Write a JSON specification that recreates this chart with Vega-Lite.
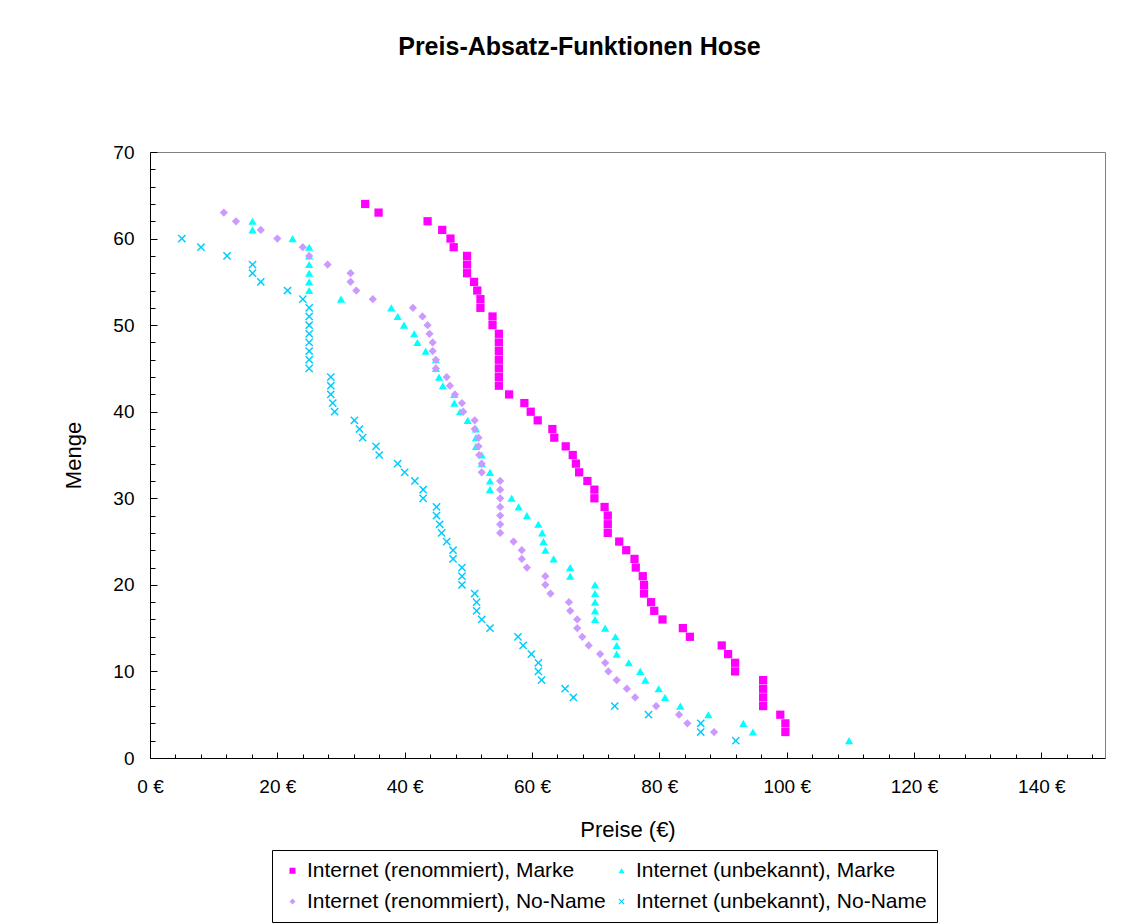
{
  "$schema": "https://vega.github.io/schema/vega-lite/v6.json",
  "width": 955,
  "height": 606,
  "autosize": "none",
  "padding": {"left": 150, "top": 152, "right": 41, "bottom": 166},
  "background": "white",
  "title": {"text": "Preis-Absatz-Funktionen Hose", "font": "Liberation Sans", "fontSize": 25, "fontWeight": "bold", "color": "black", "anchor": "middle", "frame": "group", "dx": -48, "offset": 83},
  "config": {
    "font": "Liberation Sans",
    "view": {"stroke": "#808080", "strokeWidth": 1},
    "axis": {"grid": false, "labelFlush": false, "domainColor": "black", "tickColor": "black", "labelColor": "black", "titleColor": "black", "labelFontSize": 19, "titleFontSize": 22, "titleFontWeight": "normal", "labelFont": "Liberation Sans", "titleFont": "Liberation Sans", "domainWidth": 1, "tickWidth": 1}
  },
  "datasets": {
    "pts": [
      {"serie": "Internet (renommiert), Marke", "preis": 33.8, "menge": 64},
      {"serie": "Internet (renommiert), Marke", "preis": 35.9, "menge": 63},
      {"serie": "Internet (renommiert), Marke", "preis": 43.6, "menge": 62},
      {"serie": "Internet (renommiert), Marke", "preis": 45.9, "menge": 61},
      {"serie": "Internet (renommiert), Marke", "preis": 47.2, "menge": 60},
      {"serie": "Internet (renommiert), Marke", "preis": 47.7, "menge": 59},
      {"serie": "Internet (renommiert), Marke", "preis": 49.8, "menge": 58},
      {"serie": "Internet (renommiert), Marke", "preis": 49.8, "menge": 57},
      {"serie": "Internet (renommiert), Marke", "preis": 49.8, "menge": 56},
      {"serie": "Internet (renommiert), Marke", "preis": 50.9, "menge": 55},
      {"serie": "Internet (renommiert), Marke", "preis": 51.4, "menge": 54},
      {"serie": "Internet (renommiert), Marke", "preis": 51.9, "menge": 53},
      {"serie": "Internet (renommiert), Marke", "preis": 51.9, "menge": 52},
      {"serie": "Internet (renommiert), Marke", "preis": 53.8, "menge": 51},
      {"serie": "Internet (renommiert), Marke", "preis": 53.8, "menge": 50},
      {"serie": "Internet (renommiert), Marke", "preis": 54.8, "menge": 49},
      {"serie": "Internet (renommiert), Marke", "preis": 54.8, "menge": 48},
      {"serie": "Internet (renommiert), Marke", "preis": 54.8, "menge": 47},
      {"serie": "Internet (renommiert), Marke", "preis": 54.8, "menge": 46},
      {"serie": "Internet (renommiert), Marke", "preis": 54.8, "menge": 45},
      {"serie": "Internet (renommiert), Marke", "preis": 54.8, "menge": 44},
      {"serie": "Internet (renommiert), Marke", "preis": 54.8, "menge": 43},
      {"serie": "Internet (renommiert), Marke", "preis": 56.4, "menge": 42},
      {"serie": "Internet (renommiert), Marke", "preis": 58.8, "menge": 41},
      {"serie": "Internet (renommiert), Marke", "preis": 59.8, "menge": 40},
      {"serie": "Internet (renommiert), Marke", "preis": 60.9, "menge": 39},
      {"serie": "Internet (renommiert), Marke", "preis": 63.2, "menge": 38},
      {"serie": "Internet (renommiert), Marke", "preis": 63.5, "menge": 37},
      {"serie": "Internet (renommiert), Marke", "preis": 65.3, "menge": 36},
      {"serie": "Internet (renommiert), Marke", "preis": 66.4, "menge": 35},
      {"serie": "Internet (renommiert), Marke", "preis": 66.9, "menge": 34},
      {"serie": "Internet (renommiert), Marke", "preis": 67.4, "menge": 33},
      {"serie": "Internet (renommiert), Marke", "preis": 68.7, "menge": 32},
      {"serie": "Internet (renommiert), Marke", "preis": 69.8, "menge": 31},
      {"serie": "Internet (renommiert), Marke", "preis": 69.8, "menge": 30},
      {"serie": "Internet (renommiert), Marke", "preis": 71.4, "menge": 29},
      {"serie": "Internet (renommiert), Marke", "preis": 71.9, "menge": 28},
      {"serie": "Internet (renommiert), Marke", "preis": 71.9, "menge": 27},
      {"serie": "Internet (renommiert), Marke", "preis": 71.9, "menge": 26},
      {"serie": "Internet (renommiert), Marke", "preis": 73.7, "menge": 25},
      {"serie": "Internet (renommiert), Marke", "preis": 74.8, "menge": 24},
      {"serie": "Internet (renommiert), Marke", "preis": 76.1, "menge": 23},
      {"serie": "Internet (renommiert), Marke", "preis": 76.3, "menge": 22},
      {"serie": "Internet (renommiert), Marke", "preis": 77.4, "menge": 21},
      {"serie": "Internet (renommiert), Marke", "preis": 77.6, "menge": 20},
      {"serie": "Internet (renommiert), Marke", "preis": 77.6, "menge": 19},
      {"serie": "Internet (renommiert), Marke", "preis": 78.7, "menge": 18},
      {"serie": "Internet (renommiert), Marke", "preis": 79.2, "menge": 17},
      {"serie": "Internet (renommiert), Marke", "preis": 80.5, "menge": 16},
      {"serie": "Internet (renommiert), Marke", "preis": 83.7, "menge": 15},
      {"serie": "Internet (renommiert), Marke", "preis": 84.8, "menge": 14},
      {"serie": "Internet (renommiert), Marke", "preis": 89.8, "menge": 13},
      {"serie": "Internet (renommiert), Marke", "preis": 90.8, "menge": 12},
      {"serie": "Internet (renommiert), Marke", "preis": 91.9, "menge": 11},
      {"serie": "Internet (renommiert), Marke", "preis": 91.9, "menge": 10},
      {"serie": "Internet (renommiert), Marke", "preis": 96.3, "menge": 9},
      {"serie": "Internet (renommiert), Marke", "preis": 96.3, "menge": 8},
      {"serie": "Internet (renommiert), Marke", "preis": 96.3, "menge": 7},
      {"serie": "Internet (renommiert), Marke", "preis": 96.3, "menge": 6},
      {"serie": "Internet (renommiert), Marke", "preis": 99.0, "menge": 5},
      {"serie": "Internet (renommiert), Marke", "preis": 99.8, "menge": 4},
      {"serie": "Internet (renommiert), Marke", "preis": 99.8, "menge": 3},
      {"serie": "Internet (unbekannt), Marke", "preis": 16.1, "menge": 62},
      {"serie": "Internet (unbekannt), Marke", "preis": 16.1, "menge": 61},
      {"serie": "Internet (unbekannt), Marke", "preis": 22.4, "menge": 60},
      {"serie": "Internet (unbekannt), Marke", "preis": 25.0, "menge": 59},
      {"serie": "Internet (unbekannt), Marke", "preis": 25.0, "menge": 58},
      {"serie": "Internet (unbekannt), Marke", "preis": 25.0, "menge": 57},
      {"serie": "Internet (unbekannt), Marke", "preis": 25.0, "menge": 56},
      {"serie": "Internet (unbekannt), Marke", "preis": 25.0, "menge": 55},
      {"serie": "Internet (unbekannt), Marke", "preis": 25.0, "menge": 54},
      {"serie": "Internet (unbekannt), Marke", "preis": 30.0, "menge": 53},
      {"serie": "Internet (unbekannt), Marke", "preis": 37.9, "menge": 52},
      {"serie": "Internet (unbekannt), Marke", "preis": 38.9, "menge": 51},
      {"serie": "Internet (unbekannt), Marke", "preis": 39.9, "menge": 50},
      {"serie": "Internet (unbekannt), Marke", "preis": 41.5, "menge": 49},
      {"serie": "Internet (unbekannt), Marke", "preis": 42.0, "menge": 48},
      {"serie": "Internet (unbekannt), Marke", "preis": 43.3, "menge": 47},
      {"serie": "Internet (unbekannt), Marke", "preis": 44.9, "menge": 46},
      {"serie": "Internet (unbekannt), Marke", "preis": 44.9, "menge": 45},
      {"serie": "Internet (unbekannt), Marke", "preis": 45.4, "menge": 44},
      {"serie": "Internet (unbekannt), Marke", "preis": 46.0, "menge": 43},
      {"serie": "Internet (unbekannt), Marke", "preis": 47.8, "menge": 42},
      {"serie": "Internet (unbekannt), Marke", "preis": 47.8, "menge": 41},
      {"serie": "Internet (unbekannt), Marke", "preis": 48.7, "menge": 40},
      {"serie": "Internet (unbekannt), Marke", "preis": 49.9, "menge": 39},
      {"serie": "Internet (unbekannt), Marke", "preis": 51.2, "menge": 38},
      {"serie": "Internet (unbekannt), Marke", "preis": 51.2, "menge": 37},
      {"serie": "Internet (unbekannt), Marke", "preis": 51.2, "menge": 36},
      {"serie": "Internet (unbekannt), Marke", "preis": 52.1, "menge": 35},
      {"serie": "Internet (unbekannt), Marke", "preis": 52.1, "menge": 34},
      {"serie": "Internet (unbekannt), Marke", "preis": 53.4, "menge": 33},
      {"serie": "Internet (unbekannt), Marke", "preis": 53.4, "menge": 32},
      {"serie": "Internet (unbekannt), Marke", "preis": 53.4, "menge": 31},
      {"serie": "Internet (unbekannt), Marke", "preis": 56.8, "menge": 30},
      {"serie": "Internet (unbekannt), Marke", "preis": 57.9, "menge": 29},
      {"serie": "Internet (unbekannt), Marke", "preis": 59.2, "menge": 28},
      {"serie": "Internet (unbekannt), Marke", "preis": 61.0, "menge": 27},
      {"serie": "Internet (unbekannt), Marke", "preis": 61.6, "menge": 26},
      {"serie": "Internet (unbekannt), Marke", "preis": 61.8, "menge": 25},
      {"serie": "Internet (unbekannt), Marke", "preis": 62.1, "menge": 24},
      {"serie": "Internet (unbekannt), Marke", "preis": 63.4, "menge": 23},
      {"serie": "Internet (unbekannt), Marke", "preis": 66.0, "menge": 22},
      {"serie": "Internet (unbekannt), Marke", "preis": 66.0, "menge": 21},
      {"serie": "Internet (unbekannt), Marke", "preis": 69.9, "menge": 20},
      {"serie": "Internet (unbekannt), Marke", "preis": 69.9, "menge": 19},
      {"serie": "Internet (unbekannt), Marke", "preis": 69.9, "menge": 18},
      {"serie": "Internet (unbekannt), Marke", "preis": 69.9, "menge": 17},
      {"serie": "Internet (unbekannt), Marke", "preis": 69.9, "menge": 16},
      {"serie": "Internet (unbekannt), Marke", "preis": 71.5, "menge": 15},
      {"serie": "Internet (unbekannt), Marke", "preis": 73.1, "menge": 14},
      {"serie": "Internet (unbekannt), Marke", "preis": 73.3, "menge": 13},
      {"serie": "Internet (unbekannt), Marke", "preis": 73.3, "menge": 12},
      {"serie": "Internet (unbekannt), Marke", "preis": 75.2, "menge": 11},
      {"serie": "Internet (unbekannt), Marke", "preis": 77.0, "menge": 10},
      {"serie": "Internet (unbekannt), Marke", "preis": 77.8, "menge": 9},
      {"serie": "Internet (unbekannt), Marke", "preis": 79.9, "menge": 8},
      {"serie": "Internet (unbekannt), Marke", "preis": 80.9, "menge": 7},
      {"serie": "Internet (unbekannt), Marke", "preis": 83.3, "menge": 6},
      {"serie": "Internet (unbekannt), Marke", "preis": 87.7, "menge": 5},
      {"serie": "Internet (unbekannt), Marke", "preis": 93.2, "menge": 4},
      {"serie": "Internet (unbekannt), Marke", "preis": 94.7, "menge": 3},
      {"serie": "Internet (unbekannt), Marke", "preis": 109.8, "menge": 2},
      {"serie": "Internet (renommiert), No-Name", "preis": 11.6, "menge": 63},
      {"serie": "Internet (renommiert), No-Name", "preis": 13.5, "menge": 62},
      {"serie": "Internet (renommiert), No-Name", "preis": 17.4, "menge": 61},
      {"serie": "Internet (renommiert), No-Name", "preis": 20.0, "menge": 60},
      {"serie": "Internet (renommiert), No-Name", "preis": 24.0, "menge": 59},
      {"serie": "Internet (renommiert), No-Name", "preis": 25.0, "menge": 58},
      {"serie": "Internet (renommiert), No-Name", "preis": 27.9, "menge": 57},
      {"serie": "Internet (renommiert), No-Name", "preis": 31.5, "menge": 56},
      {"serie": "Internet (renommiert), No-Name", "preis": 31.5, "menge": 55},
      {"serie": "Internet (renommiert), No-Name", "preis": 32.4, "menge": 54},
      {"serie": "Internet (renommiert), No-Name", "preis": 35.0, "menge": 53},
      {"serie": "Internet (renommiert), No-Name", "preis": 41.3, "menge": 52},
      {"serie": "Internet (renommiert), No-Name", "preis": 42.8, "menge": 51},
      {"serie": "Internet (renommiert), No-Name", "preis": 43.6, "menge": 50},
      {"serie": "Internet (renommiert), No-Name", "preis": 43.9, "menge": 49},
      {"serie": "Internet (renommiert), No-Name", "preis": 44.4, "menge": 48},
      {"serie": "Internet (renommiert), No-Name", "preis": 44.4, "menge": 47},
      {"serie": "Internet (renommiert), No-Name", "preis": 44.9, "menge": 46},
      {"serie": "Internet (renommiert), No-Name", "preis": 44.9, "menge": 45},
      {"serie": "Internet (renommiert), No-Name", "preis": 46.6, "menge": 44},
      {"serie": "Internet (renommiert), No-Name", "preis": 47.1, "menge": 43},
      {"serie": "Internet (renommiert), No-Name", "preis": 47.9, "menge": 42},
      {"serie": "Internet (renommiert), No-Name", "preis": 49.0, "menge": 41},
      {"serie": "Internet (renommiert), No-Name", "preis": 49.2, "menge": 40},
      {"serie": "Internet (renommiert), No-Name", "preis": 51.0, "menge": 39},
      {"serie": "Internet (renommiert), No-Name", "preis": 51.0, "menge": 38},
      {"serie": "Internet (renommiert), No-Name", "preis": 51.6, "menge": 37},
      {"serie": "Internet (renommiert), No-Name", "preis": 51.6, "menge": 36},
      {"serie": "Internet (renommiert), No-Name", "preis": 51.7, "menge": 35},
      {"serie": "Internet (renommiert), No-Name", "preis": 52.1, "menge": 34},
      {"serie": "Internet (renommiert), No-Name", "preis": 52.1, "menge": 33},
      {"serie": "Internet (renommiert), No-Name", "preis": 55.0, "menge": 32},
      {"serie": "Internet (renommiert), No-Name", "preis": 55.0, "menge": 31},
      {"serie": "Internet (renommiert), No-Name", "preis": 55.0, "menge": 30},
      {"serie": "Internet (renommiert), No-Name", "preis": 55.0, "menge": 29},
      {"serie": "Internet (renommiert), No-Name", "preis": 55.0, "menge": 28},
      {"serie": "Internet (renommiert), No-Name", "preis": 55.0, "menge": 27},
      {"serie": "Internet (renommiert), No-Name", "preis": 55.0, "menge": 26},
      {"serie": "Internet (renommiert), No-Name", "preis": 57.1, "menge": 25},
      {"serie": "Internet (renommiert), No-Name", "preis": 58.4, "menge": 24},
      {"serie": "Internet (renommiert), No-Name", "preis": 58.4, "menge": 23},
      {"serie": "Internet (renommiert), No-Name", "preis": 59.2, "menge": 22},
      {"serie": "Internet (renommiert), No-Name", "preis": 62.1, "menge": 21},
      {"serie": "Internet (renommiert), No-Name", "preis": 62.1, "menge": 20},
      {"serie": "Internet (renommiert), No-Name", "preis": 62.9, "menge": 19},
      {"serie": "Internet (renommiert), No-Name", "preis": 65.8, "menge": 18},
      {"serie": "Internet (renommiert), No-Name", "preis": 66.0, "menge": 17},
      {"serie": "Internet (renommiert), No-Name", "preis": 67.1, "menge": 16},
      {"serie": "Internet (renommiert), No-Name", "preis": 67.1, "menge": 15},
      {"serie": "Internet (renommiert), No-Name", "preis": 67.9, "menge": 14},
      {"serie": "Internet (renommiert), No-Name", "preis": 68.9, "menge": 13},
      {"serie": "Internet (renommiert), No-Name", "preis": 70.7, "menge": 12},
      {"serie": "Internet (renommiert), No-Name", "preis": 71.5, "menge": 11},
      {"serie": "Internet (renommiert), No-Name", "preis": 72.0, "menge": 10},
      {"serie": "Internet (renommiert), No-Name", "preis": 73.3, "menge": 9},
      {"serie": "Internet (renommiert), No-Name", "preis": 74.9, "menge": 8},
      {"serie": "Internet (renommiert), No-Name", "preis": 76.2, "menge": 7},
      {"serie": "Internet (renommiert), No-Name", "preis": 79.5, "menge": 6},
      {"serie": "Internet (renommiert), No-Name", "preis": 83.1, "menge": 5},
      {"serie": "Internet (renommiert), No-Name", "preis": 84.4, "menge": 4},
      {"serie": "Internet (renommiert), No-Name", "preis": 88.6, "menge": 3},
      {"serie": "Internet (unbekannt), No-Name", "preis": 5.0, "menge": 60},
      {"serie": "Internet (unbekannt), No-Name", "preis": 8.0, "menge": 59},
      {"serie": "Internet (unbekannt), No-Name", "preis": 12.1, "menge": 58},
      {"serie": "Internet (unbekannt), No-Name", "preis": 16.1, "menge": 57},
      {"serie": "Internet (unbekannt), No-Name", "preis": 16.1, "menge": 56},
      {"serie": "Internet (unbekannt), No-Name", "preis": 17.4, "menge": 55},
      {"serie": "Internet (unbekannt), No-Name", "preis": 21.6, "menge": 54},
      {"serie": "Internet (unbekannt), No-Name", "preis": 24.0, "menge": 53},
      {"serie": "Internet (unbekannt), No-Name", "preis": 25.0, "menge": 52},
      {"serie": "Internet (unbekannt), No-Name", "preis": 25.0, "menge": 51},
      {"serie": "Internet (unbekannt), No-Name", "preis": 25.0, "menge": 50},
      {"serie": "Internet (unbekannt), No-Name", "preis": 25.0, "menge": 49},
      {"serie": "Internet (unbekannt), No-Name", "preis": 25.0, "menge": 48},
      {"serie": "Internet (unbekannt), No-Name", "preis": 25.0, "menge": 47},
      {"serie": "Internet (unbekannt), No-Name", "preis": 25.0, "menge": 46},
      {"serie": "Internet (unbekannt), No-Name", "preis": 25.0, "menge": 45},
      {"serie": "Internet (unbekannt), No-Name", "preis": 28.4, "menge": 44},
      {"serie": "Internet (unbekannt), No-Name", "preis": 28.4, "menge": 43},
      {"serie": "Internet (unbekannt), No-Name", "preis": 28.4, "menge": 42},
      {"serie": "Internet (unbekannt), No-Name", "preis": 28.7, "menge": 41},
      {"serie": "Internet (unbekannt), No-Name", "preis": 29.0, "menge": 40},
      {"serie": "Internet (unbekannt), No-Name", "preis": 32.1, "menge": 39},
      {"serie": "Internet (unbekannt), No-Name", "preis": 32.9, "menge": 38},
      {"serie": "Internet (unbekannt), No-Name", "preis": 33.4, "menge": 37},
      {"serie": "Internet (unbekannt), No-Name", "preis": 35.5, "menge": 36},
      {"serie": "Internet (unbekannt), No-Name", "preis": 36.0, "menge": 35},
      {"serie": "Internet (unbekannt), No-Name", "preis": 38.9, "menge": 34},
      {"serie": "Internet (unbekannt), No-Name", "preis": 40.0, "menge": 33},
      {"serie": "Internet (unbekannt), No-Name", "preis": 41.6, "menge": 32},
      {"serie": "Internet (unbekannt), No-Name", "preis": 42.9, "menge": 31},
      {"serie": "Internet (unbekannt), No-Name", "preis": 42.9, "menge": 30},
      {"serie": "Internet (unbekannt), No-Name", "preis": 45.0, "menge": 29},
      {"serie": "Internet (unbekannt), No-Name", "preis": 45.0, "menge": 28},
      {"serie": "Internet (unbekannt), No-Name", "preis": 45.5, "menge": 27},
      {"serie": "Internet (unbekannt), No-Name", "preis": 45.8, "menge": 26},
      {"serie": "Internet (unbekannt), No-Name", "preis": 46.6, "menge": 25},
      {"serie": "Internet (unbekannt), No-Name", "preis": 47.6, "menge": 24},
      {"serie": "Internet (unbekannt), No-Name", "preis": 47.6, "menge": 23},
      {"serie": "Internet (unbekannt), No-Name", "preis": 49.0, "menge": 22},
      {"serie": "Internet (unbekannt), No-Name", "preis": 49.0, "menge": 21},
      {"serie": "Internet (unbekannt), No-Name", "preis": 49.0, "menge": 20},
      {"serie": "Internet (unbekannt), No-Name", "preis": 51.0, "menge": 19},
      {"serie": "Internet (unbekannt), No-Name", "preis": 51.3, "menge": 18},
      {"serie": "Internet (unbekannt), No-Name", "preis": 51.3, "menge": 17},
      {"serie": "Internet (unbekannt), No-Name", "preis": 52.1, "menge": 16},
      {"serie": "Internet (unbekannt), No-Name", "preis": 53.4, "menge": 15},
      {"serie": "Internet (unbekannt), No-Name", "preis": 57.8, "menge": 14},
      {"serie": "Internet (unbekannt), No-Name", "preis": 58.6, "menge": 13},
      {"serie": "Internet (unbekannt), No-Name", "preis": 59.9, "menge": 12},
      {"serie": "Internet (unbekannt), No-Name", "preis": 61.0, "menge": 11},
      {"serie": "Internet (unbekannt), No-Name", "preis": 61.0, "menge": 10},
      {"serie": "Internet (unbekannt), No-Name", "preis": 61.5, "menge": 9},
      {"serie": "Internet (unbekannt), No-Name", "preis": 65.2, "menge": 8},
      {"serie": "Internet (unbekannt), No-Name", "preis": 66.5, "menge": 7},
      {"serie": "Internet (unbekannt), No-Name", "preis": 73.0, "menge": 6},
      {"serie": "Internet (unbekannt), No-Name", "preis": 78.3, "menge": 5},
      {"serie": "Internet (unbekannt), No-Name", "preis": 86.5, "menge": 4},
      {"serie": "Internet (unbekannt), No-Name", "preis": 86.5, "menge": 3},
      {"serie": "Internet (unbekannt), No-Name", "preis": 92.0, "menge": 2}
    ]
  },
  "data": {"name": "pts"},
  "layer": [
    {
      "mark": {"type": "point", "opacity": 0},
      "encoding": {
        "x": {"field": "preis", "type": "quantitative", "scale": {"domain": [0, 150], "nice": false},
              "axis": {"orient": "top", "offset": -606, "values": [4, 8, 12, 16, 24, 28, 32, 36, 44, 48, 52, 56, 64, 68, 72, 76, 84, 88, 92, 96, 104, 108, 112, 116, 124, 128, 132, 136, 144, 148], "tickSize": 4, "labels": false, "domain": false, "title": null}},
        "y": {"field": "menge", "type": "quantitative", "scale": {"domain": [0, 70], "nice": false},
              "axis": {"orient": "right", "offset": -955, "values": [2, 4, 6, 8, 12, 14, 16, 18, 22, 24, 26, 28, 32, 34, 36, 38, 42, 44, 46, 48, 52, 54, 56, 58, 62, 64, 66, 68], "tickSize": 5, "labels": false, "domain": false, "title": null}}
      }
    },
    {
      "mark": {"type": "point", "opacity": 0},
      "encoding": {
        "x": {"field": "preis", "type": "quantitative", "scale": {"domain": [0, 150], "nice": false},
              "axis": {"orient": "top", "offset": -606, "values": [0, 20, 40, 60, 80, 100, 120, 140], "tickSize": 6, "labels": false, "domain": false, "title": null}},
        "y": {"field": "menge", "type": "quantitative", "scale": {"domain": [0, 70], "nice": false},
              "axis": {"orient": "right", "offset": -955, "values": [0, 10, 20, 30, 40, 50, 60, 70], "tickSize": 7, "labels": false, "domain": false, "title": null}}
      }
    },
    {
      "mark": {"type": "point", "filled": true, "opacity": 1, "size": 68, "strokeWidth": 0},
      "encoding": {
        "x": {"field": "preis", "type": "quantitative", "scale": {"domain": [0, 150], "nice": false},
              "axis": {"orient": "bottom", "values": [0, 20, 40, 60, 80, 100, 120, 140], "ticks": false, "labelFlush": false, "labelExpr": "datum.value + ' €'", "title": "Preise (€)", "labelPadding": 19, "titlePadding": 23}},
        "y": {"field": "menge", "type": "quantitative", "scale": {"domain": [0, 70], "nice": false},
              "axis": {"orient": "left", "values": [0, 10, 20, 30, 40, 50, 60, 70], "ticks": false, "labelFlush": false, "title": "Menge", "labelPadding": 16, "titlePadding": 27}},
        "color": {"field": "serie", "type": "nominal",
                  "scale": {"domain": ["Internet (renommiert), Marke", "Internet (unbekannt), Marke", "Internet (renommiert), No-Name", "Internet (unbekannt), No-Name"], "range": ["#FF00FF", "#00FFFF", "#CC99FF", "#00CCFF"]},
                  "legend": {"orient": "none", "legendX": 122, "legendY": 698, "direction": "horizontal", "columns": 2, "title": null, "strokeColor": "black", "fillColor": "white", "padding": 10, "labelFontSize": 21, "labelLimit": 500, "symbolSize": 36, "rowPadding": 9, "columnPadding": 5, "labelOffset": 4, "labelColor": "black", "symbolStrokeWidth": 0}},
        "shape": {"field": "serie", "type": "nominal",
                  "scale": {"domain": ["Internet (renommiert), Marke", "Internet (unbekannt), Marke", "Internet (renommiert), No-Name", "Internet (unbekannt), No-Name"], "range": ["square", "triangle-up", "diamond", "M-1,-0.75L-0.75,-1L0,-0.25L0.75,-1L1,-0.75L0.25,0L1,0.75L0.75,1L0,0.25L-0.75,1L-1,0.75L-0.25,0Z"]},
                  "legend": {"orient": "none", "legendX": 122, "legendY": 698, "direction": "horizontal", "columns": 2, "title": null, "strokeColor": "black", "fillColor": "white", "padding": 10, "labelFontSize": 21, "labelLimit": 500, "symbolSize": 36, "rowPadding": 9, "columnPadding": 5, "labelOffset": 4, "labelColor": "black", "symbolStrokeWidth": 0}}
      }
    }
  ],
  "resolve": {"axis": {"x": "independent", "y": "independent"}}
}
